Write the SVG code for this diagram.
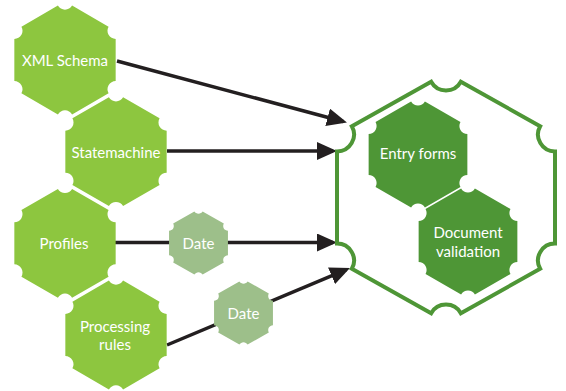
<svg xmlns="http://www.w3.org/2000/svg" xmlns:xlink="http://www.w3.org/1999/xlink" width="566" height="391" viewBox="0 0 566 391">
  <style>
    .lt { fill: #8dc63f; }
    .dt { fill: #9dbf8a; }
    .dk { fill: #4e9636; }
    .lbl { font-family: Lato, "Open Sans", "DejaVu Sans", sans-serif; font-size: 15px; fill: #ffffff; text-anchor: middle; }
    .con { stroke: #231f20; stroke-width: 3.5; fill: none; marker-end: url(#arr); }
  </style>
  <defs>
    <path id="hex" d="M0.1212,-0.93 L0.7448,-0.57 A0.14,0.14 0 0 0 0.866,-0.36 L0.866,0.36 A0.14,0.14 0 0 0 0.7448,0.57 L0.1212,0.93 A0.14,0.14 0 0 0 -0.1212,0.93 L-0.7448,0.57 A0.14,0.14 0 0 0 -0.866,0.36 L-0.866,-0.36 A0.14,0.14 0 0 0 -0.7448,-0.57 L-0.1212,-0.93 A0.14,0.14 0 0 0 0.1212,-0.93 Z"/>
    <marker id="arr" markerUnits="userSpaceOnUse" markerWidth="20" markerHeight="18" refX="16" refY="9" orient="auto" viewBox="0 0 20 18">
      <path d="M0,0 L20,9 L0,18 Z" fill="#231f20"/>
    </marker>
  </defs>

  <g id="connectors">
    <line class="con" x1="117" y1="61" x2="343.1" y2="121.5"/>
    <line class="con" x1="167" y1="151" x2="333" y2="151"/>
    <line class="con" x1="115" y1="242.5" x2="333" y2="242.5"/>
    <line class="con" x1="167" y1="345" x2="346.3" y2="269.6"/>
  </g>

  <g id="container">
    <path d="M460.84,81.8 L540.16,126.2 A17,17 0 0 0 555,151.5 L555,243.5 A17,17 0 0 0 540.16,268.8 L460.84,313.2 A17,17 0 0 0 431.16,313.2 L351.84,268.8 A17,17 0 0 0 337,243.5 L337,151.5 A17,17 0 0 0 351.84,126.2 L431.16,81.8 A17,17 0 0 0 460.84,81.8 Z" fill="none" stroke="#4e9636" stroke-width="4"/>
  </g>

  <g id="xml-schema">
    <use xlink:href="#hex" class="lt" transform="translate(65,60) scale(58.5)"/>
    <text class="lbl" x="65" y="66">XML Schema</text>
  </g>
  <g id="statemachine">
    <use xlink:href="#hex" class="lt" transform="translate(116,151.7) scale(58.5)"/>
    <text class="lbl" x="116" y="158">Statemachine</text>
  </g>
  <g id="profiles">
    <use xlink:href="#hex" class="lt" transform="translate(65,243.3) scale(58.5)"/>
    <text class="lbl" x="64" y="249">Profiles</text>
  </g>
  <g id="processing-rules">
    <use xlink:href="#hex" class="lt" transform="translate(116,335) scale(58.5)"/>
    <text class="lbl" x="115" y="331.5">Processing</text>
    <text class="lbl" x="115" y="350">rules</text>
  </g>
  <g id="date-1">
    <use xlink:href="#hex" class="dt" transform="translate(198.5,243) scale(34)"/>
    <text class="lbl" x="198.5" y="249">Date</text>
  </g>
  <g id="date-2">
    <use xlink:href="#hex" class="dt" transform="translate(243.5,313) scale(34)"/>
    <text class="lbl" x="243.5" y="319">Date</text>
  </g>
  <g id="entry-forms">
    <use xlink:href="#hex" class="dk" transform="translate(418,154.5) scale(57)"/>
    <text class="lbl" x="418" y="159">Entry forms</text>
  </g>
  <g id="document-validation">
    <use xlink:href="#hex" class="dk" transform="translate(468,241.5) scale(57)"/>
    <text class="lbl" x="468" y="237.5">Document</text>
    <text class="lbl" x="468" y="257">validation</text>
  </g>
</svg>
